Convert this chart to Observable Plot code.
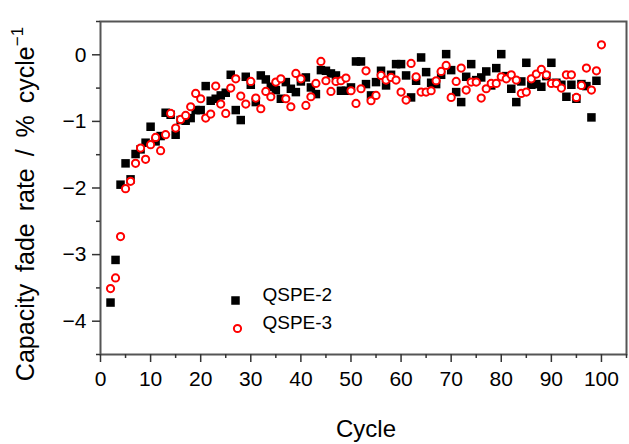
<!DOCTYPE html>
<html>
<head>
<meta charset="utf-8">
<script src="https://cdn.jsdelivr.net/npm/d3@7"></script>
<script src="https://cdn.jsdelivr.net/npm/@observablehq/plot@0.6"></script>
<style>
  html, body { margin: 0; padding: 0; background: #fff; }
  #chart { width: 629px; height: 444px; }
</style>
</head>
<body>
<div id="chart"></div>
<script>
const seriesNames = ["QSPE-2", "QSPE-3"];
const cyclesA = d3.range(2, 100);   // QSPE-2: cycles 2..99
const cyclesB = d3.range(2, 101);   // QSPE-3: cycles 2..100
const qspe2 = [
  -3.72, -3.08, -1.95, -1.63, -1.87, -1.49, -1.42, -1.32, -1.08, -1.30,
  -1.22, -0.87, -0.90, -1.20, -0.98, -0.99, -0.95, -0.83, -0.83, -0.47,
  -0.69, -0.66, -0.61, -0.57, -0.30, -0.83, -0.98, -0.33, -0.45, -0.71,
  -0.31, -0.37, -0.48, -0.53, -0.66, -0.41, -0.51, -0.56, -0.40, -0.34,
  -0.49, -0.59, -0.23, -0.24, -0.28, -0.31, -0.54, -0.54, -0.49, -0.10,
  -0.10, -0.44, -0.61, -0.41, -0.24, -0.46, -0.30, -0.14, -0.14, -0.31,
  -0.64, -0.39, -0.04, -0.26, -0.42, -0.44, -0.30, 0.01, -0.23, -0.56,
  -0.71, -0.33, -0.14, -0.38, -0.34, -0.25, -0.46, -0.20, 0.01, -0.32,
  -0.51, -0.71, -0.40, -0.12, -0.45, -0.44, -0.48, -0.32, -0.12, -0.42,
  -0.45, -0.63, -0.45, -0.66, -0.44, -0.47, -0.94, -0.39
];
const qspe3 = [
  -3.51, -3.35, -2.73, -2.01, -1.90, -1.63, -1.40, -1.57, -1.35, -1.24,
  -1.44, -1.20, -0.88, -1.10, -0.97, -0.91, -0.78, -0.58, -0.66, -0.95,
  -0.89, -0.47, -0.74, -0.88, -0.50, -0.36, -0.62, -0.74, -0.40, -0.65,
  -0.81, -0.55, -0.63, -0.41, -0.36, -0.66, -0.78, -0.28, -0.36, -0.76,
  -0.63, -0.43, -0.10, -0.39, -0.55, -0.40, -0.39, -0.35, -0.54, -0.73,
  -0.51, -0.24, -0.69, -0.61, -0.31, -0.38, -0.34, -0.38, -0.56, -0.68,
  -0.13, -0.33, -0.56, -0.56, -0.54, -0.39, -0.25, -0.16, -0.64, -0.40,
  -0.20, -0.53, -0.41, -0.41, -0.65, -0.51, -0.43, -0.43, -0.33, -0.36,
  -0.30, -0.38, -0.58, -0.56, -0.36, -0.29, -0.22, -0.30, -0.43, -0.43,
  -0.50, -0.30, -0.30, -0.64, -0.46, -0.20, -0.53, -0.24, 0.15
];
const xTicks = [0, 10, 20, 30, 40, 50, 60, 70, 80, 90, 100];
const xMinor = [5, 15, 25, 35, 45, 55, 65, 75, 85, 95, 105];
const yTicks = [0, -1, -2, -3, -4];
const yMinor = [0.5, -0.5, -1.5, -2.5, -3.5, -4.5];

const dataA = cyclesA.map((c, i) => ({cycle: c, rate: qspe2[i]}));
const dataB = cyclesB.map((c, i) => ({cycle: c, rate: qspe3[i]}));

const FONT = "'Liberation Sans', Arial, sans-serif";
const AX = "#333";

const chart = Plot.plot({
  width: 629,
  height: 444,
  marginLeft: 100,
  marginRight: 3,
  marginTop: 21,
  marginBottom: 90,
  style: {fontFamily: FONT, color: "#000", background: "#fff"},
  x: {domain: [0, 105]},
  y: {domain: [-4.5, 0.5]},
  marks: [
    Plot.frame({stroke: "#555", strokeWidth: 2}),
    Plot.axisX({ticks: xTicks, tickSize: 8, tickPadding: 9, fontSize: 21, stroke: AX, strokeWidth: 1.5, label: null, tickFormat: d3.format("d")}),
    Plot.axisX({ticks: xMinor, tickSize: 4, text: null, stroke: AX, strokeWidth: 1.5, label: null}),
    Plot.axisY({ticks: yTicks, tickSize: 8, tickPadding: 6, fontSize: 21, stroke: AX, strokeWidth: 1.5, label: null, tickFormat: d3.format("d")}),
    Plot.axisY({ticks: yMinor, tickSize: 4, text: null, stroke: AX, strokeWidth: 1.5, label: null}),
    Plot.dot(dataA, {x: "cycle", y: "rate", symbol: "square", r: 4.8, fill: "#000", stroke: "none"}),
    Plot.dot(dataB, {x: "cycle", y: "rate", symbol: "circle", r: 3.6, fill: "#fff", stroke: "#ff0000", strokeWidth: 2}),
    // legend
    Plot.dot([seriesNames[0]], {frameAnchor: "bottom-left", dx: 135, dy: -54, symbol: "square", r: 4.8, fill: "#000"}),
    Plot.dot([seriesNames[1]], {frameAnchor: "bottom-left", dx: 137, dy: -26, symbol: "circle", r: 3.6, fill: "#fff", stroke: "#ff0000", strokeWidth: 2}),
    Plot.text([seriesNames[0]], {frameAnchor: "bottom-left", dx: 162, dy: -54, text: d => d, textAnchor: "start", fontSize: 19, fill: "#000"}),
    Plot.text([seriesNames[1]], {frameAnchor: "bottom-left", dx: 162, dy: -26, text: d => d, textAnchor: "start", fontSize: 19, fill: "#000"})
  ]
});

const svg = d3.select(chart);
// x title
svg.append("text")
  .attr("x", 366).attr("y", 431)
  .attr("text-anchor", "middle").attr("dominant-baseline", "middle")
  .style("font-family", FONT).style("font-size", "24px").attr("fill", "#000")
  .text("Cycle");
// y title with superscript
const yt = svg.append("text")
  .attr("transform", "translate(27,204) rotate(-90)")
  .attr("text-anchor", "middle").attr("dominant-baseline", "middle")
  .style("font-family", FONT).style("font-size", "25px").style("word-spacing", "5px").attr("fill", "#000");
yt.append("tspan").text("Capacity fade rate / % cycle");
yt.append("tspan").attr("dy", "-0.5em").style("font-size", "17px").text("\u22121");

document.getElementById("chart").appendChild(chart);
</script>
</body>
</html>
